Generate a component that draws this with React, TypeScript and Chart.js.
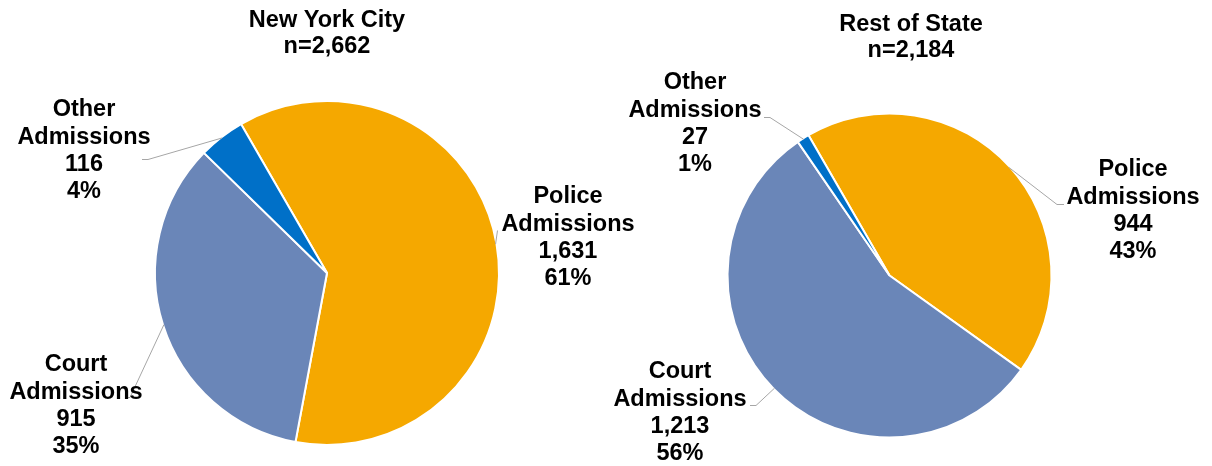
import React, { useEffect, useRef } from 'react';
import { Chart, registerables } from 'chart.js';

Chart.register(...registerables);

// ---------- data ----------
const categories = ['Police Admissions', 'Court Admissions', 'Other Admissions'];
const nycTitle = ['New York City', 'n=2,662'];
const nycValues = [1631, 915, 116];
const nycPercents = ['61%', '35%', '4%'];
const rosTitle = ['Rest of State', 'n=2,184'];
const rosValues = [944, 1213, 27];
const rosPercents = ['43%', '56%', '1%'];
const sliceColors = ['#F5A800', '#6A86B8', '#0070C8'];

// ---------- layout (positions / styles) ----------
const W = 1212;
const H = 466;
const FONT_SIZE = 23.5;
const FONT = `bold ${FONT_SIZE}px "Liberation Sans", Arial, sans-serif`;
const LINE_H = 27.3;
const LEADER_COLOR = '#A6A6A6';

type LabelLayout = { x: number; y: number; elbow: [number, number]; end: [number, number] };
type PieLayout = {
  cx: number;
  cy: number;
  r: number;
  titleX: number;
  titleY: number[];
  labels: LabelLayout[];
};

const nycLayout: PieLayout = {
  cx: 327,
  cy: 273,
  r: 172,
  titleX: 327,
  titleY: [18.7, 44.2],
  labels: [
    { x: 568, y: 195, elbow: [497.5, 230], end: [497.5, 230] },
    { x: 76, y: 363, elbow: [130, 397], end: [126, 397] },
    { x: 84, y: 108, elbow: [148, 159], end: [142, 159] },
  ],
};

const rosLayout: PieLayout = {
  cx: 889.5,
  cy: 275.5,
  r: 162,
  titleX: 911,
  titleY: [22.8, 48.7],
  labels: [
    { x: 1133, y: 168, elbow: [1057, 204], end: [1064, 204] },
    { x: 680, y: 370, elbow: [756, 405], end: [750, 405] },
    { x: 695, y: 81, elbow: [770, 117], end: [764, 117] },
  ],
};

function labelPlugin(title: string[], percents: string[], layout: PieLayout) {
  return {
    id: 'pieLabels',
    afterDraw(chart: any) {
      const ctx: CanvasRenderingContext2D = chart.ctx;
      const meta = chart.getDatasetMeta(0);
      const values: number[] = chart.data.datasets[0].data;
      const labels: string[] = chart.data.labels;
      ctx.save();
      // leader lines
      ctx.strokeStyle = LEADER_COLOR;
      ctx.lineWidth = 1;
      meta.data.forEach((arc: any, i: number) => {
        const p = arc.getProps(['x', 'y', 'startAngle', 'endAngle', 'outerRadius'], true);
        const mid = (p.startAngle + p.endAngle) / 2;
        const ax = p.x + Math.cos(mid) * (p.outerRadius - 1);
        const ay = p.y + Math.sin(mid) * (p.outerRadius - 1);
        const L = layout.labels[i];
        ctx.beginPath();
        ctx.moveTo(ax, ay);
        ctx.lineTo(L.elbow[0], L.elbow[1] + 0.5);
        ctx.lineTo(L.end[0], L.end[1] + 0.5);
        ctx.stroke();
      });
      // label texts
      ctx.fillStyle = '#000000';
      ctx.font = FONT;
      ctx.textAlign = 'center';
      ctx.textBaseline = 'alphabetic';
      const capOff = FONT_SIZE * 0.358;
      meta.data.forEach((_arc: any, i: number) => {
        const L = layout.labels[i];
        const words = labels[i].split(' ');
        const lines = [words[0], words.slice(1).join(' '), values[i].toLocaleString('en-US'), percents[i]];
        lines.forEach((t, k) => {
          ctx.fillText(t, L.x, L.y + k * LINE_H + capOff);
        });
      });
      // title
      title.forEach((t, k) => {
        ctx.fillText(t, layout.titleX, layout.titleY[k] + capOff);
      });
      ctx.restore();
    },
  };
}

function makeConfig(values: number[], title: string[], percents: string[], layout: PieLayout): any {
  const s = Math.min(layout.cx, layout.cy, W - layout.cx, H - layout.cy) - 1;
  return {
    type: 'pie',
    data: {
      labels: categories,
      datasets: [
        {
          data: values,
          backgroundColor: sliceColors,
          borderColor: '#FFFFFF',
          borderWidth: 2,
        },
      ],
    },
    options: {
      responsive: false,
      animation: false,
      events: [],
      rotation: -30,
      radius: layout.r,
      layout: {
        padding: {
          left: layout.cx - s,
          right: W - layout.cx - s,
          top: layout.cy - s,
          bottom: H - layout.cy - s,
        },
      },
      plugins: {
        legend: { display: false },
        tooltip: { enabled: false },
        title: { display: false },
      },
    },
    plugins: [labelPlugin(title, percents, layout)],
  };
}

function PieCanvas({ values, title, percents, layout }: { values: number[]; title: string[]; percents: string[]; layout: PieLayout }) {
  const ref = useRef<HTMLCanvasElement | null>(null);
  useEffect(() => {
    if (!ref.current) return;
    const chart = new Chart(ref.current, makeConfig(values, title, percents, layout));
    return () => chart.destroy();
  }, []);
  return (
    <canvas
      ref={ref}
      width={W}
      height={H}
      style={{ position: 'absolute', left: 0, top: 0, width: W, height: H }}
    />
  );
}

export default function App() {
  return (
    <div style={{ position: 'absolute', left: 0, top: 0, width: W, height: H, background: '#FFFFFF', overflow: 'hidden' }}>
      <PieCanvas values={nycValues} title={nycTitle} percents={nycPercents} layout={nycLayout} />
      <PieCanvas values={rosValues} title={rosTitle} percents={rosPercents} layout={rosLayout} />
    </div>
  );
}
